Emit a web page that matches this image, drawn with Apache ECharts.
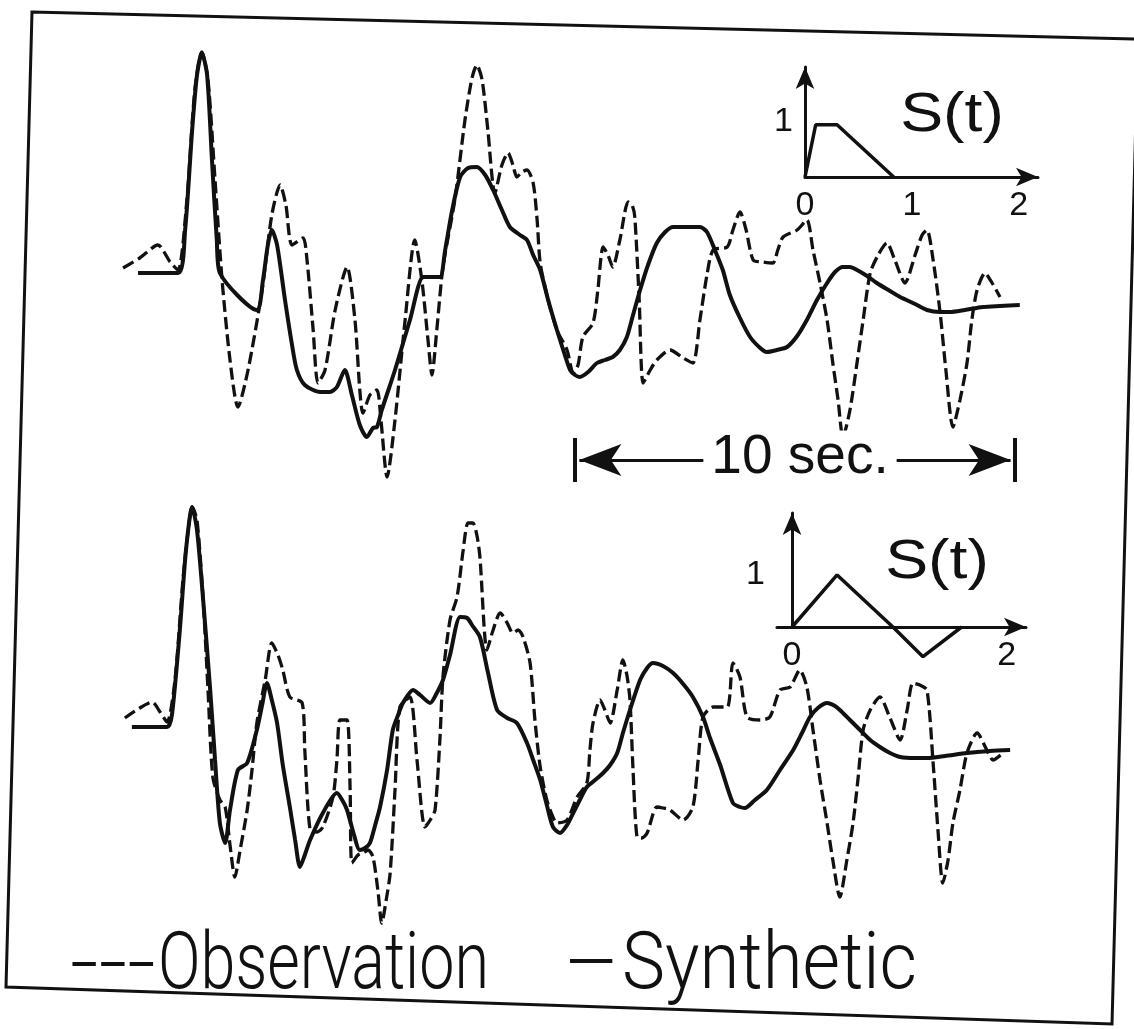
<!DOCTYPE html>
<html><head><meta charset="utf-8">
<script src="https://cdn.jsdelivr.net/npm/echarts@6/dist/echarts.min.js"></script>
<style>html,body{margin:0;padding:0;background:#fff}#c{width:1134px;height:1029px}</style>
</head><body><div id="c"></div>
<script>
// time in seconds, amplitude in relative units (peak ~ 11)
const topObservation = [[0.07,0.1],[0.45,0.6],[0.86,1.25],[1.14,0.4],[1.32,0],[1.52,3.5],[1.70,9],[1.86,10.9],[2.00,9.5],[2.16,4.5],[2.32,-0.5],[2.50,-4.5],[2.68,-6.85],[2.91,-5],[3.23,-1],[3.45,2.75],[3.64,4.25],[3.77,3.25],[3.91,1.25],[4.16,1.6],[4.25,0.5],[4.39,-3],[4.50,-5.65],[4.66,-5],[4.89,-2],[5.16,0.15],[5.34,-2.5],[5.45,-6],[5.52,-7.15],[5.68,-6.25],[5.84,-6],[5.93,-7.5],[6.07,-10.35],[6.25,-7.5],[6.48,-2.5],[6.70,1.5],[6.86,-0.5],[7.00,-3.5],[7.09,-5.25],[7.20,-3],[7.34,0.15],[7.61,3.5],[7.84,7.5],[8.00,9.6],[8.11,10.25],[8.23,9.5],[8.36,7],[8.52,3.85],[8.68,5.25],[8.82,5.85],[8.93,5.25],[9.02,4.65],[9.14,4.9],[9.25,5],[9.39,4.35],[9.48,2.5],[9.55,0.35],[9.73,-1.5],[9.93,-3],[10.16,-4],[10.30,-5.15],[10.41,-4.75],[10.52,-3.35],[10.75,-2.65],[10.86,-1],[10.98,1.15],[11.09,0.75],[11.20,0.15],[11.36,1.5],[11.55,3.4],[11.64,3.25],[11.70,2.65],[11.80,-1.5],[11.89,-5.65],[12.05,-5],[12.20,-4.5],[12.50,-4],[12.80,-4.4],[13.02,-4.65],[13.18,-2.5],[13.34,-0.25],[13.48,1],[13.80,1.15],[13.93,2],[14.09,2.9],[14.23,2],[14.39,0.5],[14.61,0.4],[14.84,0.35],[14.95,1],[15.07,1.65],[15.39,2],[15.61,2.5],[15.75,1],[15.91,-0.65],[16.07,-2.5],[16.20,-4.65],[16.32,-6.5],[16.43,-8.35],[16.59,-7],[16.75,-4.65],[16.89,-2.5],[17.05,-0.15],[17.23,0.75],[17.43,1.35],[17.61,0.5],[17.84,-0.65],[18.07,0.75],[18.23,1.75],[18.34,2],[18.48,0.5],[18.64,-2.15],[18.77,-5],[18.93,-7.85],[19.09,-6.5],[19.25,-4.65],[19.36,-2.5],[19.48,-1],[19.66,-0.15],[19.82,-0.65],[20.00,-1.35]];
const topSynthetic = [[0.41,-0.15],[1.32,-0.15],[1.48,2],[1.64,7],[1.75,9.75],[1.86,10.85],[1.98,9.75],[2.09,5.5],[2.20,1.5],[2.27,-0.15],[3.11,-2],[3.25,-0.5],[3.36,1.25],[3.45,2],[3.57,1.25],[3.75,-1.5],[3.91,-3.75],[4.02,-5],[4.20,-5.75],[4.55,-6.1],[4.77,-6.1],[4.93,-5.85],[5.11,-5],[5.27,-6.25],[5.45,-7.75],[5.61,-8.35],[5.75,-7.9],[5.84,-7.85],[5.95,-7],[6.25,-5],[6.59,-2.5],[6.89,-0.35],[7.05,-0.35],[7.27,-0.35],[7.39,1],[7.55,3],[7.73,4.65],[7.91,5.1],[8.11,5.15],[8.30,4.75],[8.48,4],[8.68,3],[8.86,2.15],[9.09,1.75],[9.25,1.5],[9.39,0.75],[9.55,0],[9.73,-1.5],[9.93,-3],[10.11,-4.25],[10.23,-5],[10.34,-5.25],[10.45,-5.35],[10.64,-5.1],[10.84,-4.65],[11.02,-4.5],[11.20,-4.35],[11.36,-4],[11.52,-3.35],[11.66,-2.25],[11.82,-1],[12.00,0.25],[12.20,1.35],[12.39,1.9],[12.57,2.15],[12.95,2.15],[13.18,2.15],[13.34,1.9],[13.52,1],[13.70,0],[13.86,-1.25],[14.09,-2.4],[14.32,-3.35],[14.55,-3.9],[14.70,-4.1],[14.93,-4],[15.16,-3.85],[15.39,-3.3],[15.61,-2.5],[15.84,-1.5],[16.07,-0.65],[16.25,-0.1],[16.43,0.15],[16.59,0.15],[16.75,0],[16.98,-0.3],[17.20,-0.65],[17.50,-1.05],[17.73,-1.35],[18.07,-1.7],[18.34,-2],[18.64,-2.1],[18.86,-2.1],[19.20,-2],[19.61,-1.85],[20.00,-1.8],[20.45,-1.75]];
const bottomObservation = [[0.11,0.35],[0.45,0.85],[0.73,1.15],[0.91,0.65],[1.07,0.15],[1.25,2.25],[1.43,7.25],[1.55,9.75],[1.64,10.9],[1.75,10.25],[1.89,6.25],[2.00,1.75],[2.11,-2.6],[2.27,-3.75],[2.39,-4.1],[2.50,-6],[2.61,-7.6],[2.73,-6.25],[2.89,-4.25],[3.00,-2.25],[3.11,0.1],[3.30,2.25],[3.45,4.1],[3.59,3.5],[3.70,2.75],[3.86,1.4],[4.14,1.1],[4.20,-1.25],[4.32,-5.25],[4.48,-5.35],[4.61,-5.1],[4.84,-3.6],[4.93,-1.75],[5.00,0.25],[5.16,0.25],[5.23,-3.25],[5.27,-6.9],[5.41,-6.5],[5.52,-6.4],[5.64,-6.25],[5.75,-6.6],[5.86,-8.25],[5.95,-9.9],[6.05,-8.75],[6.14,-7.4],[6.25,-3.25],[6.36,0.9],[6.59,1.4],[6.75,-1.75],[6.93,-5.1],[7.05,-4.75],[7.16,-4.25],[7.27,-0.75],[7.34,2.4],[7.50,5.25],[7.66,6.4],[7.80,8.75],[7.91,10.1],[8.02,10.1],[8.11,9.5],[8.18,8.4],[8.34,3.75],[8.48,4.75],[8.64,5.6],[8.80,5.1],[8.93,4.6],[9.05,4.75],[9.16,4.4],[9.32,3.1],[9.43,0.25],[9.55,-2.1],[9.70,-3.75],[9.82,-4.5],[9.93,-4.9],[10.16,-4.75],[10.39,-3.6],[10.61,-2.9],[10.68,-1.25],[10.75,0.1],[10.91,1.25],[11.02,0.75],[11.14,0.1],[11.30,1.75],[11.43,3.25],[11.52,2.5],[11.59,1.25],[11.66,-2.25],[11.75,-5.6],[11.86,-5.65],[11.98,-5.4],[12.20,-4.1],[12.34,-4.15],[12.50,-4.25],[12.80,-4.75],[13.02,-4.1],[13.14,-1.75],[13.25,0.4],[13.48,0.9],[13.80,0.9],[13.93,3.1],[14.09,2.4],[14.25,0.4],[14.55,0.25],[14.77,0.4],[15.00,1.75],[15.23,1.9],[15.45,2.75],[15.61,1.9],[15.75,-0.25],[15.91,-2.75],[16.07,-4.9],[16.20,-6.75],[16.36,-8.6],[16.52,-6.75],[16.66,-4.9],[16.77,-2.75],[16.89,-0.25],[17.05,0.75],[17.27,1.4],[17.50,0.35],[17.73,-0.75],[17.89,0.75],[18.02,2.1],[18.18,2],[18.34,1.75],[18.48,-1.9],[18.59,-5.25],[18.70,-7.9],[18.82,-6.75],[18.93,-4.9],[19.09,-3.25],[19.25,-1.4],[19.48,-0.4],[19.70,-1.25],[19.84,-1.75],[20.07,-1.4]];
const bottomSynthetic = [[0.27,-0.1],[1.07,-0.1],[1.18,0.5],[1.36,4.75],[1.50,8.75],[1.64,10.9],[1.75,9.75],[1.89,6.25],[2.05,1.75],[2.16,-1.75],[2.27,-4.9],[2.39,-5.9],[2.50,-4.25],[2.68,-2.25],[2.89,-1.9],[3.11,-0.25],[3.23,1],[3.34,2.1],[3.45,1.25],[3.57,0.1],[3.70,-2],[3.86,-4.1],[3.98,-5.75],[4.09,-7.1],[4.20,-6.5],[4.32,-5.75],[4.61,-4.4],[4.93,-3.4],[5.05,-3.75],[5.16,-4.25],[5.30,-5.35],[5.45,-6.25],[5.57,-6.15],[5.68,-5.9],[5.80,-5],[5.91,-4.1],[6.07,-2.25],[6.20,-0.25],[6.32,0.5],[6.43,1.1],[6.66,1.75],[6.82,1.5],[7.05,1.1],[7.20,1.6],[7.34,2.25],[7.50,3.5],[7.73,5.4],[7.89,5.35],[8.00,5],[8.18,4.4],[8.36,2.65],[8.57,0.75],[8.80,0.35],[9.02,0.1],[9.25,-0.9],[9.39,-1.75],[9.55,-2.75],[9.70,-4],[9.84,-5.1],[10.00,-5.4],[10.16,-5],[10.30,-4.4],[10.45,-3.75],[10.61,-3.1],[10.80,-2.75],[10.98,-2.4],[11.14,-2],[11.30,-1.4],[11.43,-0.4],[11.59,0.75],[11.82,2.25],[11.98,2.85],[12.11,3.1],[12.34,2.95],[12.57,2.6],[12.80,2.05],[13.02,1.4],[13.25,0.4],[13.41,-0.65],[13.64,-2],[13.93,-3.9],[14.09,-4.1],[14.20,-4.15],[14.43,-3.75],[14.70,-3.25],[15.00,-2.25],[15.30,-1.25],[15.50,-0.4],[15.68,0.4],[15.86,0.85],[16.07,1.1],[16.25,0.95],[16.36,0.75],[16.59,0.25],[16.82,-0.25],[17.05,-0.75],[17.27,-1.1],[17.50,-1.4],[17.73,-1.6],[18.07,-1.65],[18.34,-1.65],[18.75,-1.55],[19.25,-1.4],[19.77,-1.3],[20.23,-1.25]];
// source time functions S(t)
const sourceTopT = [[0,0],[0.1,0.95],[0.3,0.95],[0.83,0]];
const sourceBottomT = [[0,0],[0.42,1],[0.94,0],[1.22,-0.57],[1.58,0]];
const insetTopXTicks = [0,1,2];
const insetBottomXTicks = [0,2];
const insetYTicks = [1];
const scaleBarStart = 10.34, scaleBarSeconds = 10, scaleBarLevel = -9.5;
const scaleBarLabel = '10 sec.';
const legendDashes = '---', legendObs = 'Observation', legendDash = '\u2014', legendSyn = 'Synthetic';
const insetTitle = 'S(t)';

const INK = '#111';
const chart = echarts.init(document.getElementById('c'), null, {renderer:'canvas'});

const measureCtx = document.createElement('canvas').getContext('2d');
function fitText(text, font, left, right, y) {
  measureCtx.font = font;
  const w = measureCtx.measureText(text).width || 1;
  return {type:'text', x:left, y:y, scaleX:(right-left)/w, silent:true, z:10,
    style:{text, fill:INK, font, align:'left', verticalAlign:'middle'}};
}

function trace(data, idx, dashed, extra) {
  return Object.assign({
    type:'line', xAxisIndex:idx, yAxisIndex:idx, data, symbol:'none', smooth:0.25,
    lineStyle:{color:INK, width: dashed?3.3:4, type: dashed?[12,5]:'solid'},
    z: dashed?3:2, animation:false, silent:true
  }, extra||{});
}
const hiddenX = {type:'value', min:0, max:20.5, show:false};
const hiddenY = {type:'value', min:-11.5, max:11.5, show:false};
const labelFont = {color:INK, fontSize:34, fontFamily:'"Liberation Sans", sans-serif'};
function insetX(gi, min, max, ticks) {
  return {type:'value', gridIndex:gi, min, max,
    axisLine:{show:true, onZero:true, symbol:['none','arrow'], symbolSize:[14,22], lineStyle:{color:INK, width:3}},
    axisTick:{show:false}, splitLine:{show:false},
    axisLabel:Object.assign({customValues:ticks, margin:12}, labelFont)};
}
function insetY(gi, min, max) {
  return {type:'value', gridIndex:gi, min, max,
    axisLine:{show:true, onZero:true, symbol:['none','arrow'], symbolSize:[14,22], lineStyle:{color:INK, width:3}},
    axisTick:{show:false}, splitLine:{show:false},
    axisLabel:Object.assign({customValues:insetYTicks, margin:12}, labelFont)};
}
const sb = scaleBarStart, se = scaleBarStart + scaleBarSeconds;
const legendFont = '300 80px Roboto, "Liberation Sans", sans-serif';
const titleFont = '56px "Liberation Sans", sans-serif';

chart.setOption({
  backgroundColor:'#fff',
  animation:false,
  grid:[
    {left:120, top:40, width:902, height:460},
    {left:120, top:495, width:902, height:460},
    {left:805, top:67, width:233, height:110},
    {left:777, top:513, width:249, height:114}
  ],
  xAxis:[
    Object.assign({gridIndex:0}, hiddenX),
    Object.assign({gridIndex:1}, hiddenX),
    insetX(2, 0, 2.18, insetTopXTicks),
    insetX(3, -0.14, 2.18, insetBottomXTicks)
  ],
  yAxis:[
    Object.assign({gridIndex:0}, hiddenY),
    Object.assign({gridIndex:1}, hiddenY),
    insetY(2, 0, 2.0),
    insetY(3, 0, 2.19)
  ],
  series:[
    trace(topSynthetic, 0, false, {
      markLine:{silent:true, symbol:['none','none'], label:{show:false}, animation:false,
        lineStyle:{color:INK, width:3, type:'solid'},
        data:[
          [{coord:[sb+0.1, scaleBarLevel], symbol:'arrow', symbolSize:[24,42]}, {coord:[se-0.1, scaleBarLevel], symbol:'arrow', symbolSize:[24,42]}],
          [{coord:[sb, scaleBarLevel+1.1], lineStyle:{width:4}}, {coord:[sb, scaleBarLevel-1.1]}],
          [{coord:[se, scaleBarLevel+1.1], lineStyle:{width:4}}, {coord:[se, scaleBarLevel-1.1]}]
        ]}
    }),
    trace(topObservation, 0, true),
    trace(bottomSynthetic, 1, false),
    trace(bottomObservation, 1, true),
    {type:'line', xAxisIndex:2, yAxisIndex:2, data:sourceTopT, symbol:'none', clip:false,
      lineStyle:{color:INK, width:3.5}, animation:false, silent:true},
    {type:'line', xAxisIndex:3, yAxisIndex:3, data:sourceBottomT, symbol:'none', clip:false,
      lineStyle:{color:INK, width:3.5}, animation:false, silent:true}
  ],
  graphic:[
    {type:'polygon', shape:{points:[[32,12],[1138,39],[1112,1024],[6,987]]}, style:{fill:'none', stroke:INK, lineWidth:3}, z:1, silent:true},
    {type:'text', x:800, y:458, z:10, silent:true, style:{text:scaleBarLabel, fill:INK, font:'55px "Liberation Sans", sans-serif', align:'center', verticalAlign:'middle', backgroundColor:'#fff', padding:[0,8]}},
    {type:'text', x:952, y:116, scaleX:1.15, silent:true, style:{text:insetTitle, fill:INK, font:titleFont, align:'center', verticalAlign:'middle'}},
    {type:'text', x:937, y:563, scaleX:1.15, silent:true, style:{text:insetTitle, fill:INK, font:titleFont, align:'center', verticalAlign:'middle'}},
    fitText(legendDashes, legendFont, 70, 156, 969),
    fitText(legendObs, legendFont, 158, 489, 968),
    fitText(legendDash, legendFont, 566, 616, 970),
    fitText(legendSyn, legendFont, 622, 917, 968)
  ]
});
</script></body></html>
